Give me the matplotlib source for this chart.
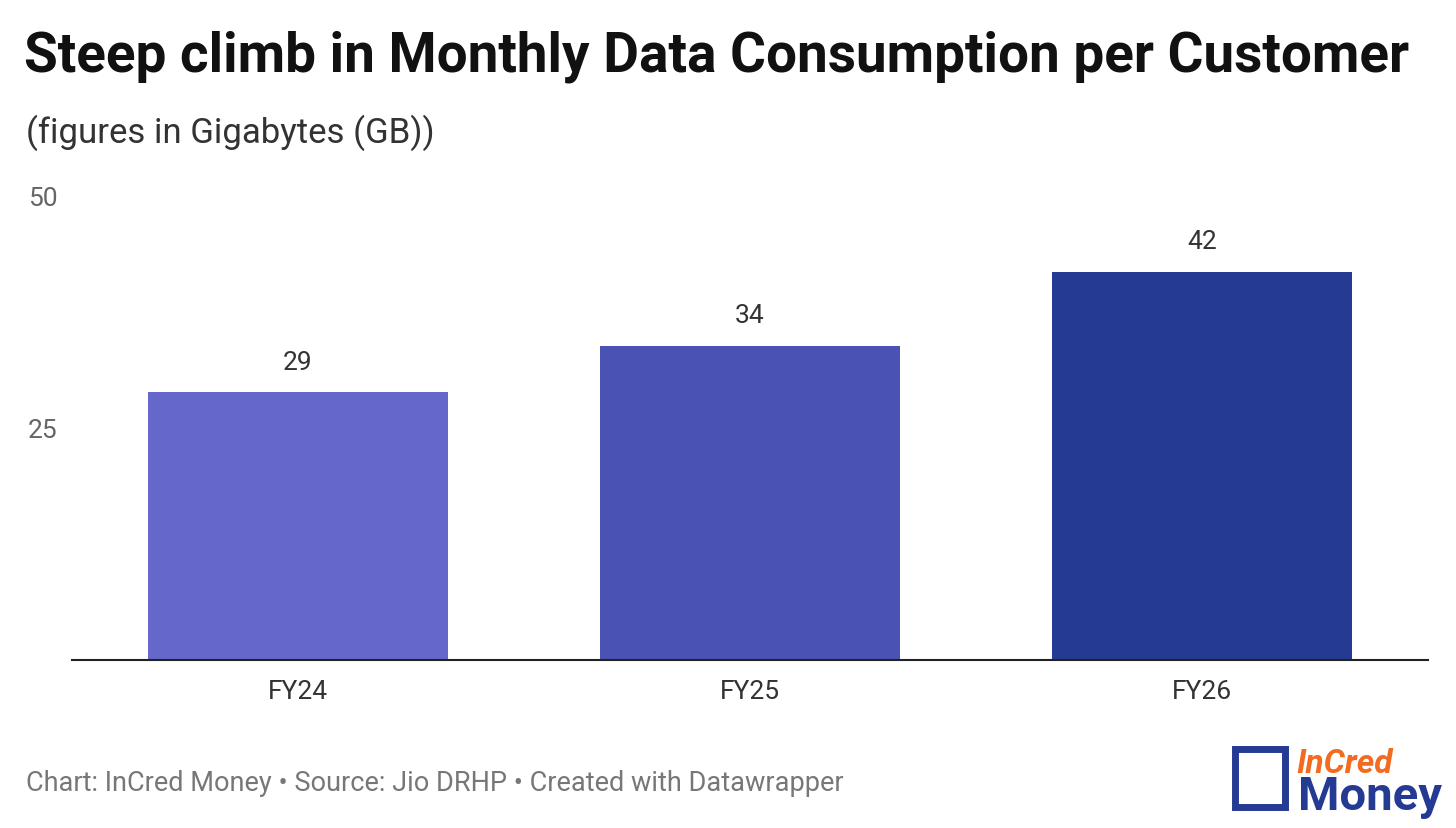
import matplotlib.pyplot as plt
from matplotlib.patches import Rectangle

years = ["FY24", "FY25", "FY26"]
gb = [29, 34, 42]
colors = ["#6567ca", "#4a52b3", "#253a93"]

W, H = 1456, 829
fig = plt.figure(figsize=(W / 100, H / 100), dpi=100)
plt.rcParams['font.family'] = ['Roboto', 'DejaVu Sans']

ax = fig.add_axes([72 / W, 168 / H, (1428 - 72) / W, (661 - 199) / H])
x = [0, 1, 2]
ax.bar(x, gb, width=0.665, color=colors)
ax.set_xlim(-0.5, 2.5)
ax.set_ylim(0, 50)
for xi, v in zip(x, gb):
    ax.text(xi, v + 2.0, str(v), ha='center', va='bottom', fontsize=19, color='#333333')
for s in ['top', 'right', 'left']:
    ax.spines[s].set_visible(False)
ax.spines['bottom'].set_color('#222222')
ax.spines['bottom'].set_linewidth(1.5)
ax.set_yticks([])
ax.set_xticks(x)
ax.set_xticklabels(years, fontsize=19, color='#333333')
ax.tick_params(axis='x', length=0, pad=14)
for v in [25, 50]:
    fig.text(28 / W, 1 - (431 if v == 25 else 199) / H, str(v), fontsize=19,
             color='#666666', va='center', ha='left')

fig.text(24 / W, 1 - 57 / H, "Steep climb in Monthly Data Consumption per Customer",
         fontsize=39.5, fontweight='bold', color='#111111', va='center')
fig.text(26 / W, 1 - 133 / H, "(figures in Gigabytes (GB))", fontsize=25,
         color='#333333', va='center')
fig.text(26 / W, 1 - 784 / H,
         "Chart: InCred Money \u2022 Source: Jio DRHP \u2022 Created with Datawrapper",
         fontsize=19.5, color='#777777', va='center')

# logo
fig.patches.append(Rectangle((1235 / W, 1 - 808 / H), 50 / W, 58 / H,
                             transform=fig.transFigure, fill=False,
                             edgecolor='#253a93', linewidth=5))
fig.text(1296 / W, 1 - 773 / H, "InCred", fontsize=24, fontweight='bold',
         style='italic', color='#f26b21', va='baseline')
fig.text(1298 / W, 1 - 810 / H, "Money", fontsize=34, fontweight='bold',
         color='#253a93', va='baseline')

fig.savefig("out.png", dpi=100)
